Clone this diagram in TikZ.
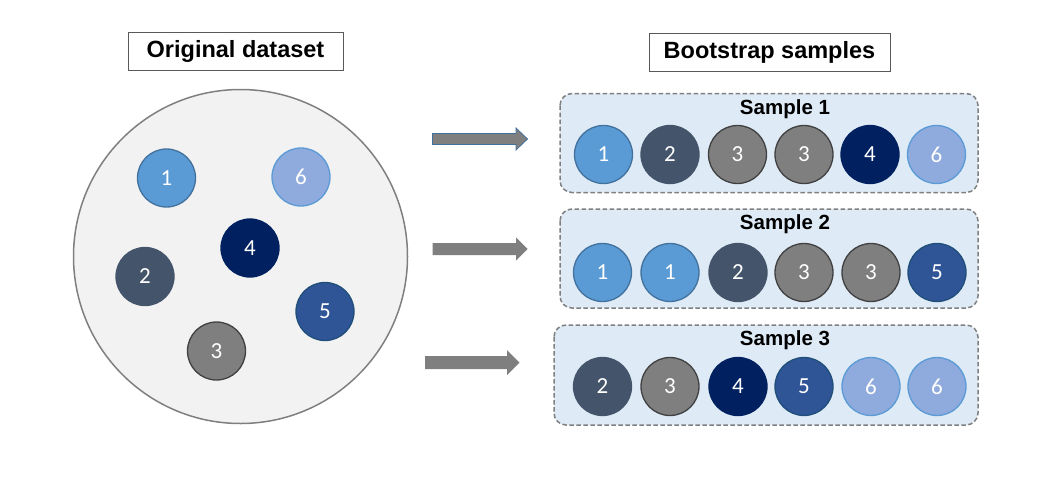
\documentclass[tikz,border=0pt]{standalone}
\usepackage{fontspec}
\setmainfont{Liberation Sans}
\newfontfamily\calfont{Carlito}
\definecolor{cA}{HTML}{5B9BD5}\definecolor{bA}{HTML}{41719C}
\definecolor{cB}{HTML}{44546A}\definecolor{bB}{HTML}{44546A}
\definecolor{cC}{HTML}{7F7F7F}\definecolor{bC}{HTML}{404040}
\definecolor{cD}{HTML}{002060}\definecolor{bD}{HTML}{002060}
\definecolor{cE}{HTML}{2F5597}\definecolor{bE}{HTML}{1F4E79}
\definecolor{cF}{HTML}{8FAADC}\definecolor{bF}{HTML}{5B9BD5}
\definecolor{bigfill}{HTML}{F2F2F2}
\definecolor{biggray}{HTML}{7F7F7F}
\definecolor{samplefill}{HTML}{DEEBF7}
\definecolor{arrowgray}{HTML}{7F7F7F}
\definecolor{arrowedge}{HTML}{41719C}
\tikzset{
  ball/.style={circle, minimum size=58pt, inner sep=0pt, line width=1.3pt,
    text=white, font=\calfont\fontsize{23}{27}\selectfont},
  b1/.style={ball, fill=cA, draw=bA},
  b2/.style={ball, fill=cB, draw=bB},
  b3/.style={ball, fill=cC, draw=bC},
  b4/.style={ball, fill=cD, draw=bD},
  b5/.style={ball, fill=cE, draw=bE},
  b6/.style={ball, fill=cF, draw=bF},
  titlebox/.style={draw=black!65, fill=white, line width=1pt, inner sep=0pt,
    font=\bfseries\fontsize{23.5}{27}\selectfont},
  samplebox/.style={draw=biggray, fill=samplefill, line width=1.5pt,
    dash pattern=on 4.5pt off 2.5pt, rounded corners=12pt},
  samplelabel/.style={font=\bfseries\fontsize{20.5}{24}\selectfont, inner sep=0pt},
  blockarrow/.style={fill=arrowgray},
}
\begin{document}
\begin{tikzpicture}[x=1pt,y=-1pt]
\useasboundingbox (0,0) rectangle (1063,480);
% titles
\node[titlebox, minimum width=215pt, minimum height=38pt] (torig) at (235.5,51) {Original dataset};
\node[titlebox, minimum width=241pt, minimum height=38pt] (tboot) at (769.5,52.5) {Bootstrap samples};
% original dataset
\node[circle, draw=biggray, fill=bigfill, line width=1.5pt, minimum size=334pt, inner sep=0pt] (big) at (240.5,256.5) {};
\node[b1] (o1) at (166.5,178) {1};
\node[b6] (o6) at (301,177) {6};
\node[b4] (o4) at (250,248) {4};
\node[b2] (o2) at (145,276.5) {2};
\node[b5] (o5) at (325,311.5) {5};
\node[b3] (o3) at (216.5,351) {3};
% sample boxes
\draw[samplebox] (560,93.5) rectangle (978,192.5);
\draw[samplebox] (560,209) rectangle (978,308);
\draw[samplebox] (554,325) rectangle (978,425);
\node[samplelabel] (s1) at (785,109) {Sample 1};
\node[samplelabel] (s2) at (785,224.5) {Sample 2};
\node[samplelabel] (s3) at (785,340.5) {Sample 3};
% sample 1
\node[b1] (a1) at (603.5,154.5) {1};
\node[b2] (a2) at (670,154.5) {2};
\node[b3] (a3) at (737.5,154.5) {3};
\node[b3] (a4) at (804,154.5) {3};
\node[b4] (a5) at (870,154.5) {4};
\node[b6] (a6) at (936.5,154.5) {6};
% sample 2
\node[b1] (c1) at (602.5,272.5) {1};
\node[b1] (c2) at (670,272.5) {1};
\node[b2] (c3) at (738,272.5) {2};
\node[b3] (c4) at (804,272.5) {3};
\node[b3] (c5) at (871,272.5) {3};
\node[b5] (c6) at (937,272.5) {5};
% sample 3
\node[b2] (d1) at (602.5,386.5) {2};
\node[b3] (d2) at (670,386.5) {3};
\node[b4] (d3) at (738,386.5) {4};
\node[b5] (d4) at (804,386.5) {5};
\node[b6] (d5) at (871,386.5) {6};
\node[b6] (d6) at (937,386.5) {6};
% block arrows
\draw[blockarrow, draw=arrowedge, line width=0.8pt] (432.5,133.5) -- (516,133.5) -- (516,128) -- (527.5,139) -- (516,150) -- (516,144.5) -- (432.5,144.5) -- cycle;
\fill[blockarrow] (432.5,243) -- (516,243) -- (516,237.5) -- (527.5,249) -- (516,260.5) -- (516,255) -- (432.5,255) -- cycle;
\fill[blockarrow] (425,356) -- (507,356) -- (507,350) -- (519.5,362.5) -- (507,375) -- (507,369) -- (425,369) -- cycle;
\end{tikzpicture}
\end{document}
